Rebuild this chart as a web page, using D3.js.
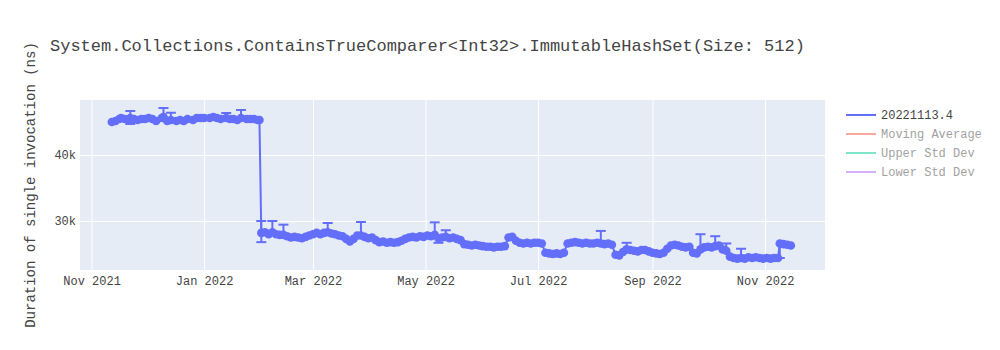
<!DOCTYPE html>
<html>
<head>
<meta charset="utf-8">
<script src="https://cdn.jsdelivr.net/npm/d3@7"></script>
<style>
  body { margin: 0; background: #fff; }
  text { font-family: "Liberation Mono", "DejaVu Sans Mono", monospace; }
</style>
</head>
<body>
<div id="chart"></div>
<script>
// ---- data ----
var titleText = "System.Collections.ContainsTrueComparer<Int32>.ImmutableHashSet(Size: 512)";
var yLabel = "Duration of single invocation (ns)";
var legendNames = ["20221113.4", "Moving Average", "Upper Std Dev", "Lower Std Dev"];
var legendColors = ["#636efa", "#EF553B", "#00cc96", "#ab63fa"];
var yTicks = [30000, 40000];

var dates = [
  "2021-11-12","2021-11-14","2021-11-16","2021-11-17","2021-11-19","2021-11-21","2021-11-22","2021-11-24",
  "2021-11-26","2021-11-28","2021-11-30","2021-12-02","2021-12-04","2021-12-06","2021-12-09","2021-12-10",
  "2021-12-12","2021-12-14","2021-12-17","2021-12-19","2021-12-21","2021-12-23","2021-12-26","2021-12-28",
  "2021-12-30","2022-01-01","2022-01-04","2022-01-06","2022-01-08","2022-01-10","2022-01-13","2022-01-15",
  "2022-01-17","2022-01-19","2022-01-21","2022-01-24","2022-01-26","2022-01-28","2022-01-30","2022-01-31",
  "2022-02-01","2022-02-03","2022-02-05","2022-02-07","2022-02-09","2022-02-11","2022-02-13","2022-02-15",
  "2022-02-17","2022-02-19","2022-02-21","2022-02-23","2022-02-25","2022-02-27","2022-03-01","2022-03-03",
  "2022-03-05","2022-03-07","2022-03-09","2022-03-11","2022-03-13","2022-03-15","2022-03-17","2022-03-19",
  "2022-03-21","2022-03-23","2022-03-25","2022-03-27","2022-03-29","2022-03-31","2022-04-02","2022-04-04",
  "2022-04-06","2022-04-08","2022-04-10","2022-04-12","2022-04-14","2022-04-16","2022-04-18","2022-04-20",
  "2022-04-22","2022-04-24","2022-04-26","2022-04-28","2022-04-30","2022-05-02","2022-05-04","2022-05-06",
  "2022-05-08","2022-05-10","2022-05-12","2022-05-14","2022-05-16","2022-05-18","2022-05-20","2022-05-22",
  "2022-05-24","2022-05-26","2022-05-28","2022-05-30","2022-06-01","2022-06-03","2022-06-05","2022-06-07",
  "2022-06-09","2022-06-11","2022-06-13","2022-06-15","2022-06-17","2022-06-19","2022-06-21","2022-06-23",
  "2022-06-25","2022-06-27","2022-06-29","2022-07-01","2022-07-03","2022-07-05","2022-07-07","2022-07-09",
  "2022-07-11","2022-07-13","2022-07-15","2022-07-17","2022-07-19","2022-07-21","2022-07-23","2022-07-25",
  "2022-07-27","2022-07-29","2022-07-31","2022-08-02","2022-08-04","2022-08-06","2022-08-08","2022-08-10",
  "2022-08-12","2022-08-14","2022-08-16","2022-08-18","2022-08-20","2022-08-22","2022-08-24","2022-08-26",
  "2022-08-28","2022-08-30","2022-09-01","2022-09-03","2022-09-05","2022-09-07","2022-09-09","2022-09-11",
  "2022-09-13","2022-09-15","2022-09-17","2022-09-19","2022-09-21","2022-09-23","2022-09-25","2022-09-27",
  "2022-09-29","2022-10-01","2022-10-03","2022-10-05","2022-10-07","2022-10-09","2022-10-11","2022-10-13",
  "2022-10-15","2022-10-17","2022-10-19","2022-10-21","2022-10-23","2022-10-25","2022-10-27","2022-10-29",
  "2022-10-31","2022-11-02","2022-11-04","2022-11-06","2022-11-08","2022-11-09","2022-11-11","2022-11-13",
  "2022-11-15"
];
var values = [
  45000,45150,45450,45600,45450,45300,45600,45450,
  45300,45450,45450,45600,45450,45150,45600,45750,
  45150,45300,45150,45300,45150,45450,45300,45600,
  45600,45600,45600,45750,45600,45450,45600,45450,
  45450,45300,45600,45450,45450,45450,45300,45300,
  28200,28300,28000,28300,28000,27900,27900,27700,
  27500,27600,27500,27400,27600,27800,28000,28200,
  28000,28200,28300,28100,28000,27800,27700,27300,
  26900,27300,27800,27800,27600,27400,27500,27100,
  26800,26900,26700,26800,26700,26800,27000,27300,
  27500,27600,27500,27700,27600,27800,27700,27900,
  27400,27500,27600,27400,27500,27300,27100,26500,
  26400,26300,26400,26300,26200,26100,26100,26000,
  26100,26100,26200,27500,27600,27000,26700,26600,
  26700,26600,26700,26700,26600,25200,25100,25000,
  25100,25000,25200,26600,26700,26800,26700,26600,
  26700,26600,26600,26700,26600,26500,26600,26400,
  24900,24800,25300,25700,25600,25500,25400,25600,
  25600,25400,25200,25100,25000,25200,25800,26300,
  26400,26300,26100,26000,26100,25200,25100,25700,
  26000,26100,26000,26200,26300,25700,25500,24600,
  24400,24300,24400,24300,24500,24400,24500,24400,
  24300,24400,24300,24400,24400,26600,26500,26400,
  26300
];
// error bars that stand out of the markers: date, plus, minus
var errDates = ["2021-11-22","2021-12-10","2021-12-14","2022-01-13","2022-01-21","2022-02-01","2022-02-07",
  "2022-02-13","2022-03-09","2022-03-27","2022-05-06","2022-05-08","2022-05-12","2022-08-04","2022-08-18",
  "2022-09-27","2022-10-05","2022-10-11","2022-10-19","2022-11-09"];
var errPlus  = [1060,1370,1100,760,1220,1800,1700,1550,1400,2050,1900,0,1000,1900,1000,2300,1500,1100,1400,0];
var errMinus = [900,0,0,0,0,1400,0,0,0,0,0,700,0,0,0,0,0,0,0,2200];

// ---- layout ----
var margin = {top: 100, right: 175, bottom: 80, left: 80},
    width = 1000 - margin.left - margin.right,
    height = 350 - margin.top - margin.bottom;

var parse = d3.timeParse("%Y-%m-%d");
var data = dates.map(function(d, i) { return {date: parse(d), value: values[i]}; });
var errs = errDates.map(function(d, i) { return {date: parse(d), value: values[dates.indexOf(d)], plus: errPlus[i], minus: errMinus[i]}; });

var svg = d3.select("#chart")
  .append("svg")
    .attr("width", 1000)
    .attr("height", 350);

var g = svg.append("g")
    .attr("transform", "translate(" + margin.left + "," + margin.top + ")");

g.append("rect")
  .attr("width", width)
  .attr("height", height)
  .attr("fill", "#e5ecf6");

var x = d3.scaleTime()
  .domain([new Date(2021, 9, 25, 18), new Date(2022, 11, 3, 12)])
  .range([0, width]);

var y = d3.scaleLinear()
  .domain([22580, 48330])
  .range([height, 0]);

// X axis with gridlines
var xAxis = g.append("g")
  .attr("transform", "translate(0," + height + ")")
  .call(d3.axisBottom(x)
    .ticks(d3.timeMonth.every(2))
    .tickSize(-height)
    .tickPadding(6)
    .tickFormat(d3.timeFormat("%b %Y")));
xAxis.select(".domain").remove();
xAxis.selectAll("line").attr("stroke", "#fff").attr("stroke-width", 1);
xAxis.selectAll("text").attr("fill", "#444").style("font-size", "12px").attr("font-family", null);

// Y axis with gridlines
var yAxis = g.append("g")
  .call(d3.axisLeft(y)
    .tickValues(yTicks)
    .tickSize(-width)
    .tickPadding(4)
    .tickFormat(function(d) { return (d / 1000) + "k"; }));
yAxis.select(".domain").remove();
yAxis.selectAll("line").attr("stroke", "#fff").attr("stroke-width", 1);
yAxis.selectAll("text").attr("fill", "#444").style("font-size", "12px").attr("font-family", null);

// error bars
var eb = g.append("g").attr("stroke", "#636efa").attr("stroke-width", 2);
errs.forEach(function(e) {
  var cx = x(e.date);
  var top = y(e.value + e.plus), bot = y(e.value - e.minus);
  eb.append("line").attr("x1", cx).attr("x2", cx).attr("y1", top).attr("y2", bot);
  if (e.plus > 0) eb.append("line").attr("x1", cx - 5).attr("x2", cx + 5).attr("y1", top).attr("y2", top);
  if (e.minus > 0) eb.append("line").attr("x1", cx - 5).attr("x2", cx + 5).attr("y1", bot).attr("y2", bot);
});

// line + markers
g.append("path")
  .datum(data)
  .attr("fill", "none")
  .attr("stroke", "#636efa")
  .attr("stroke-width", 2)
  .attr("d", d3.line()
    .x(function(d) { return x(d.date); })
    .y(function(d) { return y(d.value); }));

g.selectAll(".pt")
  .data(data)
  .enter()
  .append("circle")
    .attr("class", "pt")
    .attr("cx", function(d) { return x(d.date); })
    .attr("cy", function(d) { return y(d.value); })
    .attr("r", 4.3)
    .attr("fill", "#636efa");

// title
svg.append("text")
  .attr("x", 50)
  .attr("y", 51)
  .attr("fill", "#444")
  .style("font-size", "17px")
  .text(titleText);

// y label
svg.append("text")
  .attr("transform", "translate(35," + (margin.top + height / 2) + ") rotate(-90)")
  .attr("text-anchor", "middle")
  .attr("fill", "#444")
  .style("font-size", "14px")
  .text(yLabel);

// legend
var legend = svg.append("g").attr("transform", "translate(846,115)");
legendNames.forEach(function(name, i) {
  var item = legend.append("g")
    .attr("transform", "translate(0," + (i * 19) + ")")
    .attr("opacity", i == 0 ? 1 : 0.5);
  item.append("line")
    .attr("x1", 0).attr("x2", 30)
    .attr("stroke", legendColors[i])
    .attr("stroke-width", 2);
  item.append("text")
    .attr("x", 35)
    .attr("y", 4)
    .attr("fill", "#444")
    .style("font-size", "12px")
    .text(name);
});
</script>
</body>
</html>
